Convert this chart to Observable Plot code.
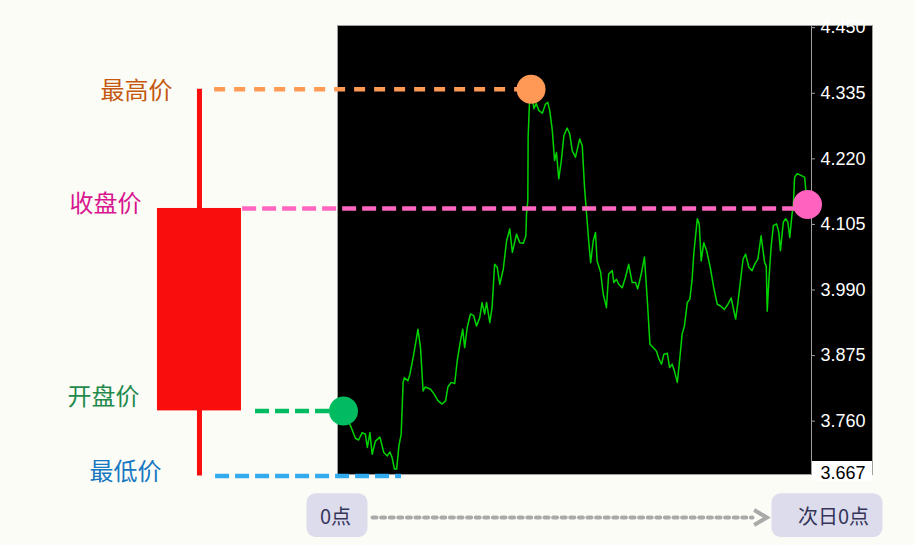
<!DOCTYPE html>
<html><head><meta charset="utf-8">
<script src="https://cdn.jsdelivr.net/npm/d3@7"></script>
<script src="https://cdn.jsdelivr.net/npm/@observablehq/plot@0.6"></script>
<style>
html,body{margin:0;padding:0;background:#fcfcf6;}
#chart{width:915px;}
#chart svg{display:block;}
#chart svg.main{overflow:visible;position:relative;z-index:1;}
</style></head><body><div id="chart"></div>
<script>
// ---- data ----
const times = [0,24,37,47,58,68,74,82,89,99,113,125,136,144,151,158,165,172,179,185,189,200,206,218,231,239,247,254,270,282,293,306,317,324,334,345,353,363,370,376,384,394,404,413,423,430,438,444,454,461,469,477,485,496,506,516,524,531,537,547,558,566,568,572,573,577,582,591,598,606,617,627,634,640,648,655,661,668,676,684,694,702,710,720,727,733,741,748,756,761,767,775,782,787,798,806,816,823,834,839,847,854,865,875,885,896,906,913,924,934,943,951,961,971,979,987,994,1005,1012,1020,1027,1036,1044,1051,1058,1067,1075,1082,1087,1098,1104,1110,1118,1127,1139,1149,1160,1170,1182,1193,1203,1217,1224,1232,1240,1248,1258,1268,1276,1286,1296,1307,1312,1315,1320,1327,1334,1344,1351,1356,1365,1372,1379,1385,1392,1396,1400,1408,1431,1440];
const prices = [3.778,3.749,3.730,3.727,3.740,3.737,3.714,3.740,3.702,3.725,3.732,3.705,3.699,3.706,3.696,3.676,3.676,3.717,3.737,3.828,3.836,3.831,3.842,3.877,3.921,3.889,3.813,3.820,3.816,3.807,3.796,3.790,3.796,3.820,3.828,3.826,3.866,3.901,3.921,3.889,3.924,3.948,3.945,3.927,3.942,3.968,3.948,3.968,3.933,3.959,4.035,4.030,4.000,4.027,4.076,4.097,4.056,4.073,4.088,4.073,4.072,4.085,4.123,4.147,4.258,4.316,4.342,4.308,4.317,4.305,4.300,4.316,4.319,4.305,4.270,4.217,4.231,4.185,4.217,4.261,4.274,4.264,4.234,4.223,4.240,4.255,4.243,4.170,4.112,4.076,4.038,4.076,4.091,4.041,4.021,3.983,3.959,4.018,4.024,4.003,4.009,4.000,3.994,4.012,4.035,4.003,4.003,3.992,4.018,4.048,3.971,3.895,3.889,3.883,3.869,3.860,3.877,3.879,3.854,3.860,3.848,3.828,3.872,3.913,3.927,3.968,3.974,4.009,4.053,4.115,4.106,4.041,4.073,4.059,4.027,3.994,3.965,3.962,3.956,3.965,3.976,3.939,3.968,4.006,4.044,4.053,4.030,4.024,4.035,4.044,4.085,4.038,4.032,3.953,4.006,4.065,4.103,4.106,4.091,4.059,4.109,4.115,4.109,4.082,4.123,4.138,4.188,4.194,4.188,4.133];
const ohlc = {open: 3.778, high: 4.342, low: 3.664, close: 4.133, highTime: 582};
const priceTicks = [3.760, 3.875, 3.990, 4.105, 4.220, 4.335, 4.450];
const lastTick = [3.667];
const levelLabels = ["最高价", "收盘价", "开盘价", "最低价"];
const timeTicks = [0, 1440];
const timeLabels = ["0点", "次日0点"];

// ---- layout (time units along x, left of the session) ----
const CANDLE_T = -447;
const CJK = "Noto Sans CJK SC";
const series = times.map((t, i) => ({t, price: prices[i]}));
const fmt = d3.format(".3f");

const mainPlot = Plot.plot({
  className: "main",
  width: 915, height: 477,
  marginLeft: 337, marginRight: 104, marginTop: 25, marginBottom: 3,
  x: {domain: [0, 1440], range: [343, 807], axis: null},
  y: {domain: [3.667, 4.450], range: [473.7, 27.2]},
  style: {background: "transparent", fontFamily: "Liberation Sans"},
  marks: [
    Plot.frame({fill: "black", stroke: "#a0a0a0", insetRight: -61}),
    Plot.frame({stroke: "#a0a0a0"}),
    Plot.rect(lastTick, {y1: d => d, y2: d => d, insetLeft: 475, insetRight: -61, insetTop: -12.7, insetBottom: -7, fill: "white"}),
    Plot.axisY(priceTicks, {anchor: "right", tickSize: 3, tickPadding: 6, tickFormat: fmt, fill: "white", stroke: "#a0a0a0", fontSize: 18, label: null}),
    Plot.text(lastTick, {y: d => d, frameAnchor: "right", dx: 9, dy: -1, textAnchor: "start", text: fmt, fill: "black", fontSize: 18}),
    Plot.line(series, {x: "t", y: "price", stroke: "#00d400", strokeWidth: 1.5}),
    // candle
    Plot.ruleX([ohlc], {x: () => CANDLE_T, y1: "low", y2: "high", stroke: "#f90d0d", strokeWidth: 5}),
    Plot.rect([ohlc], {x1: () => CANDLE_T, x2: () => CANDLE_T, y1: "open", y2: "close", insetLeft: -42, insetRight: -42, fill: "#f90d0d"}),
    // dashed level lines
    Plot.ruleY([ohlc], {y: "high", x1: () => -400, x2: "highTime", stroke: "#ff9a55", strokeWidth: 4.5, strokeDasharray: "11,9"}),
    Plot.ruleY([ohlc], {y: "close", x1: () => -313, x2: () => 1440, stroke: "#ff66c0", strokeWidth: 4.5, strokeDasharray: "14,6"}),
    Plot.ruleY([ohlc], {y: "open", x1: () => -273, x2: () => 0, stroke: "#00bb5f", strokeWidth: 4.5, strokeDasharray: "14,6"}),
    Plot.ruleY([ohlc], {y: "low", x1: () => -397, x2: () => 180, stroke: "#33aaee", strokeWidth: 4.5, strokeDasharray: "14,6"}),
    // markers
    Plot.dot([ohlc], {x: "highTime", y: "high", r: 14.5, fill: "#ff9955"}),
    Plot.dot([ohlc], {x: () => 0, y: "open", r: 14.5, fill: "#00bb5f"}),
    Plot.dot([ohlc], {x: () => 1440, y: "close", r: 14.5, fill: "#ff63bf", dy: -4}),
    // labels
    Plot.text([ohlc], {x: () => CANDLE_T, y: "high", text: () => levelLabels[0], textAnchor: "end", dx: -27, dy: 2, fill: "#c4580f", fontSize: 24, fontFamily: CJK}),
    Plot.text([ohlc], {x: () => CANDLE_T, y: "close", text: () => levelLabels[1], textAnchor: "end", dx: -58, dy: -4, fill: "#d8168f", fontSize: 24, fontFamily: CJK}),
    Plot.text([ohlc], {x: () => CANDLE_T, y: "open", text: () => levelLabels[2], textAnchor: "end", dx: -60, dy: -14, fill: "#1f8a4c", fontSize: 24, fontFamily: CJK}),
    Plot.text([ohlc], {x: () => CANDLE_T, y: "low", text: () => levelLabels[3], textAnchor: "end", dx: -38, dy: -4, fill: "#1778c2", fontSize: 24, fontFamily: CJK})
  ]
});

const chevron = {draw(ctx, size) {
  const r = Math.sqrt(size / Math.PI);
  ctx.moveTo(-r * 0.85, -r); ctx.lineTo(r * 0.85, 0); ctx.lineTo(-r * 0.85, r);
}};

const timePlot = Plot.plot({
  width: 915, height: 68, margin: 0,
  x: {domain: [0, 1440], range: [343, 807], axis: null},
  y: {domain: [-1, 1], range: [80, 0], axis: null},
  style: {background: "transparent", fontFamily: CJK},
  marks: [
    Plot.rect([timeTicks[0]], {x1: d => d, x2: d => d, dx: -6, insetLeft: -30.5, insetRight: -30.5, insetTop: 16.3, insetBottom: 8, rx: 9, fill: "#dcdcec"}),
    Plot.rect([timeTicks[1]], {x1: d => d, x2: d => d, dx: 20, insetLeft: -55.5, insetRight: -55.5, insetTop: 16.3, insetBottom: 8, rx: 9, fill: "#dcdcec"}),
    Plot.text([timeTicks[0]], {x: d => d, y: () => 0, text: () => timeLabels[0], dx: -8, fill: "#35355a", fontSize: 20}),
    Plot.text([timeTicks[1]], {x: d => d, y: () => 0, text: () => timeLabels[1], dx: 26, fill: "#35355a", fontSize: 20}),
    Plot.arrow([0], {x1: () => timeTicks[0], x2: () => timeTicks[1], y1: () => 0, y2: () => 0, insetStart: 29, insetEnd: 55, headLength: 0, stroke: "#aaaaaa", strokeWidth: 4, strokeDasharray: "4,4.6"}),
    Plot.dot([timeTicks[1]], {x: d => d, y: () => 0, dx: -47, r: 7.5, symbol: chevron, fill: "none", stroke: "#aaaaaa", strokeWidth: 4})
  ]
});

document.getElementById("chart").append(mainPlot, timePlot);
</script></body></html>
